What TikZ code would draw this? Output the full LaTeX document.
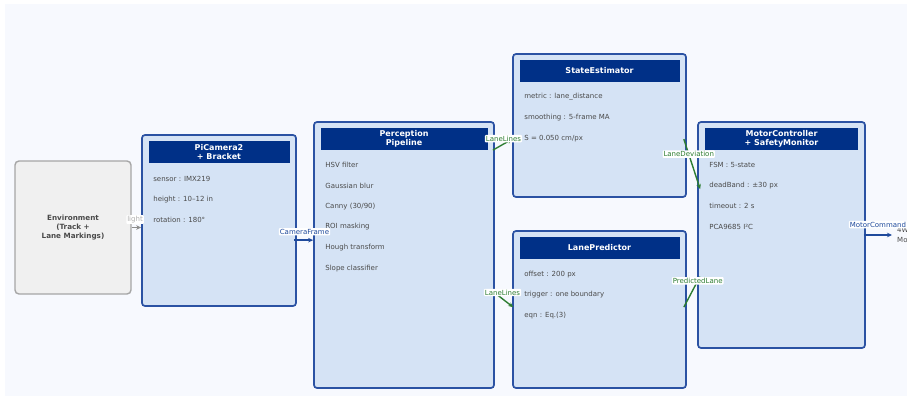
\documentclass[tikz,border=0pt]{standalone}
\usepackage{fontspec}
\setmainfont{DejaVu Sans}
\usetikzlibrary{arrows.meta, calc, positioning}
\definecolor{panelbg}{HTML}{F7F9FE}
\definecolor{blockfill}{HTML}{D5E3F5}
\definecolor{blockedge}{HTML}{2B52A3}
\definecolor{headnavy}{HTML}{003087}
\definecolor{envfill}{HTML}{F0F0F0}
\definecolor{envedge}{HTML}{A6A6A6}
\definecolor{itemtext}{HTML}{4A4A4A}
\definecolor{flowgreen}{HTML}{2E7D32}
\definecolor{flowblue}{HTML}{1F4A9C}
\definecolor{flowgray}{HTML}{8C8C8C}

\begin{document}
\begin{tikzpicture}[x=1pt, y=-1pt,% styles used in image code
         > = {Stealth[length=5pt, width=4.5pt]},
block/.style = {draw=blockedge, fill=blockfill, line width=1.7pt,
                rounded corners=3pt, inner sep=0pt},
  env/.style = {draw=envedge, fill=envfill, line width=1.4pt,
                rounded corners=4pt, inner sep=0pt, align=center,
                text=itemtext, font=\fontsize{7.2}{8.7}\selectfont\bfseries},
 head/.style = {fill=headnavy, text=white, anchor=north, align=center,
                minimum height=22pt, inner sep=0pt,
                font=\fontsize{8}{9}\selectfont\bfseries},
 item/.style = {anchor=west, inner sep=0pt, text=itemtext,
                font=\fontsize{7}{8}\selectfont},
  lbl/.style = {fill=white, inner sep=1pt, rounded corners=1pt,
                font=\fontsize{7}{8}\selectfont},
 flow/.style = {->, line width=1.4pt}
                    ]
	% background panel
	\useasboundingbox (0,0) rectangle (907,396);
	\fill[panelbg] (5,4) rectangle (907,396);

	% blocks
	\node[env, minimum width=116pt, minimum height=133pt] (env) at (73,227.5)
		{Environment\\(Track +\\Lane Markings)};
	\node[block, minimum width=154pt, minimum height=171pt] (cam)   at (219,220.5) {};
	\node[block, minimum width=180pt, minimum height=266pt] (perc)  at (404,255) {};
	\node[block, minimum width=173pt, minimum height=143pt] (state) at (599.5,125.5) {};
	\node[block, minimum width=173pt, minimum height=157pt] (lanep) at (599.5,309.5) {};
	\node[block, minimum width=167pt, minimum height=226pt] (motor) at (781.5,235) {};

	% title bars
	\node[head, minimum width=141pt] (camT)   at ($(cam.north)+(0,6.5)$)   {PiCamera2\\+ Bracket};
	\node[head, minimum width=167pt] (percT)  at ($(perc.north)+(0,6.5)$)  {Perception\\Pipeline};
	\node[head, minimum width=160pt] (stateT) at ($(state.north)+(0,6.5)$) {StateEstimator};
	\node[head, minimum width=160pt] (lanepT) at ($(lanep.north)+(0,6.5)$) {LanePredictor};
	\node[head, minimum width=153pt] (motorT) at ($(motor.north)+(0,6.5)$) {MotorController\\+ SafetyMonitor};

	% block contents
	\foreach \t [count=\i from 0] in {sensor : IMX219, height : 10--12 in, rotation : 180°}
		\node[item] at ($(cam.north west)+(12,45+20.6*\i)$) {\t};
	\foreach \t [count=\i from 0] in {HSV filter, Gaussian blur, Canny (30/90),
			ROI masking, Hough transform, Slope classifier}
		\node[item] at ($(perc.north west)+(12,44+20.6*\i)$) {\t};
	\foreach \t [count=\i from 0] in {metric : lane\_distance, smoothing : 5-frame MA,
			S = 0.050 cm/px}
		\node[item] at ($(state.north west)+(12,44+20.6*\i)$) {\t};
	\foreach \t [count=\i from 0] in {offset : 200 px, trigger : one boundary, eqn : Eq.(3)}
		\node[item] at ($(lanep.north west)+(12,44+20.6*\i)$) {\t};
	\foreach \t [count=\i from 0] in {FSM : 5-state, deadBand : ±30 px, timeout : 2 s,
			PCA9685 I²C}
		\node[item] at ($(motor.north west)+(12,44+20.6*\i)$) {\t};

	% connector ends
	\coordinate (camOut)   at ($(cam.north east)+(-3,106)$);
	\coordinate (percOutA) at ($(perc.north east)+(-2,29)$);
	\coordinate (percOutB) at ($(perc.north east)+(-1,171)$);
	\coordinate (stateIn)  at ($(state.north west)+(0,86)$);
	\coordinate (lanepIn)  at ($(lanep.north west)+(1,77)$);
	\coordinate (stateOut) at ($(state.north east)+(-3,86)$);
	\coordinate (lanepOut) at ($(lanep.north east)+(-3,77)$);
	\coordinate (motorInA) at ($(motor.north west)+(3,68)$);
	\coordinate (motorInB) at ($(motor.north west)+(3,155)$);
	\coordinate (motorOut) at ($(motor.east)+(-2,0)$);
	\coordinate (wheels)   at (892,235);

	% connectors
	\draw[flow, flowgray] (env.east) -- (cam.west |- env.east)
		node[lbl, text=flowgray!70, pos=0.35, above=3pt] {light};
	\draw[flow, flowblue] (camOut) -- (perc.west |- camOut)
		node[lbl, text=flowblue, pos=0.55, above=4pt] {CameraFrame};
	\draw[flow, flowgreen] (percOutA) -- (stateIn)
		node[lbl, text=flowgreen, pos=0.55, above=1pt] {LaneLines};
	\draw[flow, flowgreen] (percOutB) -- (lanepIn)
		node[lbl, text=flowgreen, pos=0.45, above=2pt] {LaneLines};
	\draw[flow, flowgreen] (stateOut) -- (motorInA)
		node[lbl, text=flowgreen, pos=0.3] {LaneDeviation};
	\draw[flow, flowgreen] (lanepOut) -- (motorInB)
		node[lbl, text=flowgreen, pos=0.85] {PredictedLane};
	\node[item, align=left, font=\fontsize{7}{10}\selectfont] (motors) at (897,235) {4WD\\Motors};
	\draw[flow, flowblue] (motorOut) -- (wheels)
		node[lbl, text=flowblue, pos=0.5, above=6pt] {MotorCommand};
\end{tikzpicture}
\end{document}
